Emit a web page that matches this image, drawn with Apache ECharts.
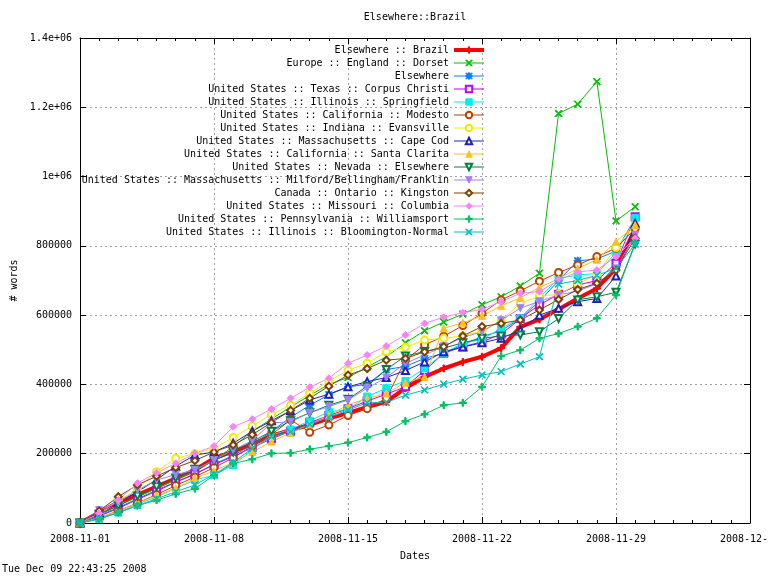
<!DOCTYPE html>
<html>
<head>
<meta charset="utf-8">
<title>Elsewhere::Brazil</title>
<script src="https://cdn.jsdelivr.net/npm/echarts@6/dist/echarts.min.js"></script>
<style>
    html, body { margin: 0; padding: 0; background: #fff; }
    #chart { width: 768px; height: 576px; }
</style>
</head>
<body>
<div id="chart"></div>
<script>
// Dates of the daily samples
const dates = [
    '2008-11-01', '2008-11-02', '2008-11-03', '2008-11-04', '2008-11-05',
    '2008-11-06', '2008-11-07', '2008-11-08', '2008-11-09', '2008-11-10',
    '2008-11-11', '2008-11-12', '2008-11-13', '2008-11-14', '2008-11-15',
    '2008-11-16', '2008-11-17', '2008-11-18', '2008-11-19', '2008-11-20',
    '2008-11-21', '2008-11-22', '2008-11-23', '2008-11-24', '2008-11-25',
    '2008-11-26', '2008-11-27', '2008-11-28', '2008-11-29', '2008-11-30'
];

// Cumulative word counts per place
const brazil = [0, 30000, 60000, 81000, 105000, 129000, 153000, 187000, 206000, 228000, 252000, 268000, 283000, 302000, 317000, 335000, 350000, 389000, 422000, 446000, 465000, 480000, 505000, 566000, 588000, 617000, 648000, 677000, 735000, 848000];
const dorset = [0, 25000, 50000, 75000, 100000, 125000, 150000, 182000, 220000, 265000, 300000, 335000, 368000, 400000, 420000, 450000, 480000, 520000, 555000, 580000, 603000, 630000, 653000, 684000, 721000, 1182000, 1209000, 1274000, 872000, 913000];
const elsewhere = [0, 22000, 45000, 70000, 95000, 118000, 140000, 170000, 195000, 225000, 265000, 305000, 340000, 370000, 393000, 400000, 443000, 452000, 475000, 490000, 515000, 538000, 555000, 590000, 640000, 700000, 757000, 762000, 785000, 880000];
const corpusChristi = [0, 20000, 42000, 68000, 92000, 118000, 142000, 168000, 192000, 218000, 243000, 265000, 290000, 310000, 330000, 352000, 372000, 393000, 440000, 490000, 509000, 523000, 545000, 590000, 630000, 660000, 687000, 700000, 750000, 884000];
const springfield = [0, 12000, 30000, 55000, 75000, 100000, 124000, 138000, 167000, 211000, 254000, 270000, 295000, 321000, 328000, 365000, 389000, 410000, 446000, 490000, 519000, 530000, 562000, 591000, 650000, 706000, 716000, 720000, 780000, 880000];
const modesto = [0, 15000, 35000, 58000, 82000, 108000, 133000, 160000, 188000, 222000, 255000, 298000, 262000, 283000, 310000, 330000, 360000, 470000, 514000, 539000, 570000, 605000, 644000, 670000, 698000, 723000, 745000, 769000, 793000, 850000];
const evansville = [0, 25000, 62000, 100000, 148000, 187000, 200000, 215000, 247000, 280000, 313000, 340000, 374000, 410000, 441000, 461000, 494000, 507000, 528000, 533000, 540000, 555000, 585000, 634000, 655000, 660000, 690000, 718000, 795000, 860000];
const capeCod = [0, 30000, 60000, 90000, 125000, 164000, 196000, 205000, 230000, 265000, 295000, 324000, 355000, 372000, 393000, 408000, 420000, 440000, 465000, 494000, 508000, 520000, 533000, 557000, 600000, 620000, 639000, 648000, 713000, 865000];
const santaClarita = [0, 15000, 35000, 57000, 80000, 100000, 129000, 150000, 175000, 205000, 235000, 260000, 285000, 310000, 341000, 360000, 374000, 405000, 422000, 562000, 578000, 598000, 627000, 650000, 680000, 705000, 735000, 760000, 812000, 860000];
const nevada = [0, 25000, 50000, 78000, 105000, 130000, 155000, 180000, 205000, 235000, 265000, 295000, 318000, 340000, 357000, 395000, 443000, 482000, 495000, 505000, 520000, 533000, 540000, 543000, 552000, 590000, 644000, 653000, 666000, 805000];
const milford = [0, 37000, 60000, 95000, 124000, 140000, 153000, 182000, 211000, 238000, 289000, 292000, 318000, 336000, 355000, 389000, 420000, 461000, 485000, 510000, 536000, 552000, 585000, 620000, 640000, 658000, 670000, 690000, 735000, 831000];
const kingston = [0, 35000, 76000, 110000, 135000, 160000, 180000, 205000, 225000, 255000, 290000, 325000, 360000, 395000, 427000, 446000, 470000, 475000, 494000, 509000, 540000, 567000, 576000, 586000, 615000, 645000, 674000, 692000, 730000, 822000];
const columbia = [0, 28000, 66000, 115000, 145000, 172000, 201000, 222000, 278000, 300000, 329000, 360000, 392000, 418000, 461000, 485000, 511000, 543000, 576000, 594000, 607000, 617000, 639000, 663000, 668000, 701000, 725000, 730000, 769000, 822000];
const williamsport = [0, 12000, 30000, 50000, 66000, 84000, 99000, 138000, 172000, 184000, 201000, 202000, 213000, 222000, 232000, 247000, 263000, 294000, 314000, 340000, 347000, 393000, 482000, 499000, 533000, 547000, 567000, 591000, 658000, 808000];
const bloomington = [0, 12000, 30000, 50000, 70000, 90000, 110000, 140000, 175000, 215000, 249000, 263000, 285000, 305000, 326000, 347000, 348000, 369000, 384000, 401000, 415000, 427000, 437000, 459000, 480000, 690000, 700000, 715000, 735000, 805000];

// Axis settings
const startDate = '2008-11-01';
const dayCount = 35;          // 2008-11-01 .. 2008-12-06
const dayStep = 7;
const yMax = 1400000;
const yStep = 200000;

const DAY = 86400000;
const FONT = 'DejaVu Sans Mono';

// gnuplot-like point shapes
const PLUS = 'path://M4,0H6V4H10V6H6V10H4V6H0V4H4Z';
const CROSS = 'path://M1,0L5,4L9,0L10,1L6,5L10,9L9,10L5,6L1,10L0,9L4,5L0,1Z';
const STAR = 'path://M4,0H6V4H10V6H6V10H4V6H0V4H4Z M1,0L5,4L9,0L10,1L6,5L10,9L9,10L5,6L1,10L0,9L4,5L0,1Z';

const seriesDefs = [
    { name: 'Elsewhere :: Brazil', values: brazil, color: '#ff0000', symbol: PLUS, width: 4 },
    { name: 'Europe :: England :: Dorset', values: dorset, color: '#00c000', symbol: CROSS },
    { name: 'Elsewhere', values: elsewhere, color: '#0080ff', symbol: STAR },
    { name: 'United States :: Texas :: Corpus Christi', values: corpusChristi, color: '#c000ff', symbol: 'emptyRect' },
    { name: 'United States :: Illinois :: Springfield', values: springfield, color: '#00eeee', symbol: 'rect' },
    { name: 'United States :: California :: Modesto', values: modesto, color: '#c04000', symbol: 'emptyCircle' },
    { name: 'United States :: Indiana :: Evansville', values: evansville, color: '#eeee00', symbol: 'emptyCircle' },
    { name: 'United States :: Massachusetts :: Cape Cod', values: capeCod, color: '#2020c0', symbol: 'emptyTriangle' },
    { name: 'United States :: California :: Santa Clarita', values: santaClarita, color: '#ffc020', symbol: 'triangle' },
    { name: 'United States :: Nevada :: Elsewhere', values: nevada, color: '#008040', symbol: 'emptyTriangle', rotate: 180 },
    { name: 'United States :: Massachusetts :: Milford/Bellingham/Franklin', values: milford, color: '#a080ff', symbol: 'triangle', rotate: 180 },
    { name: 'Canada :: Ontario :: Kingston', values: kingston, color: '#804000', symbol: 'emptyDiamond' },
    { name: 'United States :: Missouri :: Columbia', values: columbia, color: '#ff80ff', symbol: 'diamond' },
    { name: 'United States :: Pennsylvania :: Williamsport', values: williamsport, color: '#00c060', symbol: PLUS },
    { name: 'United States :: Illinois :: Bloomington-Normal', values: bloomington, color: '#00c0c0', symbol: CROSS },
];

/**
 * Day offset of a date string from the axis start
 */
function dayOffset(dateStr) {
    return (Date.parse(dateStr) - Date.parse(startDate)) / DAY;
}

/**
 * Day offset back to a YYYY-MM-DD label
 */
function dayLabel(offset) {
    return new Date(Date.parse(startDate) + offset * DAY).toISOString().slice(0, 10);
}

/**
 * gnuplot style y labels: 1e+06, 1.2e+06 ...
 */
function yLabel(v) {
    if (v >= 1000000) {
        return (v / 1000000) + 'e+06';
    }
    return String(v);
}

const chart = echarts.init(document.getElementById('chart'), null, { renderer: 'canvas' });

const gridLine = { show: true, lineStyle: { color: '#a0a0a0', type: [2, 3], width: 1 } };
const blackLine = { show: true, onZero: false, lineStyle: { color: '#000', width: 1 } };
const textBase = { fontFamily: FONT, fontSize: 10, color: '#000' };
const majorTick = { show: true, inside: true, length: 6, lineStyle: { color: '#000' } };
const minorTick = { show: true, splitNumber: dayStep, length: 3, lineStyle: { color: '#000' } };

const option = {
    animation: false,
    backgroundColor: '#fff',
    title: [
        {
            text: 'Elsewhere::Brazil',
            left: 415, top: 12, textAlign: 'center', padding: 0,
            textStyle: { ...textBase, fontWeight: 'normal' },
        },
        {
            text: 'Tue Dec 09 22:43:25 2008',
            left: 2, top: 564, padding: 0,
            textStyle: { ...textBase, fontWeight: 'normal' },
        },
    ],
    legend: {
        orient: 'vertical',
        align: 'right',
        right: 282,
        top: 45,
        padding: 0,
        itemWidth: 30,
        itemHeight: 8,
        itemGap: 3,
        textStyle: textBase,
        data: seriesDefs.map(s => ({
            name: s.name,
            lineStyle: { width: s.width || 1 },
            itemStyle: { borderWidth: 1 },
        })),
    },
    grid: { left: 80, right: 18, top: 38, bottom: 53, outerBoundsMode: 'none', containLabel: false },
    xAxis: [
        {
            type: 'value',
            min: 0, max: dayCount, interval: dayStep,
            name: 'Dates', nameLocation: 'middle', nameGap: 28,
            nameTextStyle: textBase,
            axisLine: blackLine,
            axisTick: majorTick,
            minorTick: minorTick,
            axisLabel: { ...textBase, margin: 11, formatter: dayLabel, showMaxLabel: true },
            splitLine: gridLine,
        },
        {
            type: 'value', position: 'top',
            min: 0, max: dayCount, interval: dayStep,
            axisLine: blackLine,
            axisTick: majorTick,
            minorTick: minorTick,
            axisLabel: { show: false },
            splitLine: { show: false },
        },
    ],
    yAxis: [
        {
            type: 'value',
            min: 0, max: yMax, interval: yStep,
            name: '# words', nameLocation: 'middle', nameGap: 60, nameRotate: 90,
            nameTextStyle: textBase,
            axisLine: blackLine,
            axisTick: majorTick,
            axisLabel: { ...textBase, margin: 8, formatter: yLabel },
            splitLine: gridLine,
        },
        {
            type: 'value', position: 'right',
            min: 0, max: yMax, interval: yStep,
            axisLine: blackLine,
            axisTick: majorTick,
            axisLabel: { show: false },
            splitLine: { show: false },
        },
    ],
    series: seriesDefs.map(s => ({
        name: s.name,
        type: 'line',
        xAxisIndex: 0,
        yAxisIndex: 0,
        data: dates.map((d, i) => [dayOffset(d), s.values[i]]),
        symbol: s.symbol,
        symbolSize: 7,
        symbolRotate: s.rotate || 0,
        showAllSymbol: true,
        color: s.color,
        lineStyle: { color: s.color, width: s.width || 1 },
        itemStyle: { color: s.color, borderColor: s.color, borderWidth: 1 },
        emphasis: { disabled: true },
    })),
};

chart.setOption(option);
</script>
</body>
</html>
